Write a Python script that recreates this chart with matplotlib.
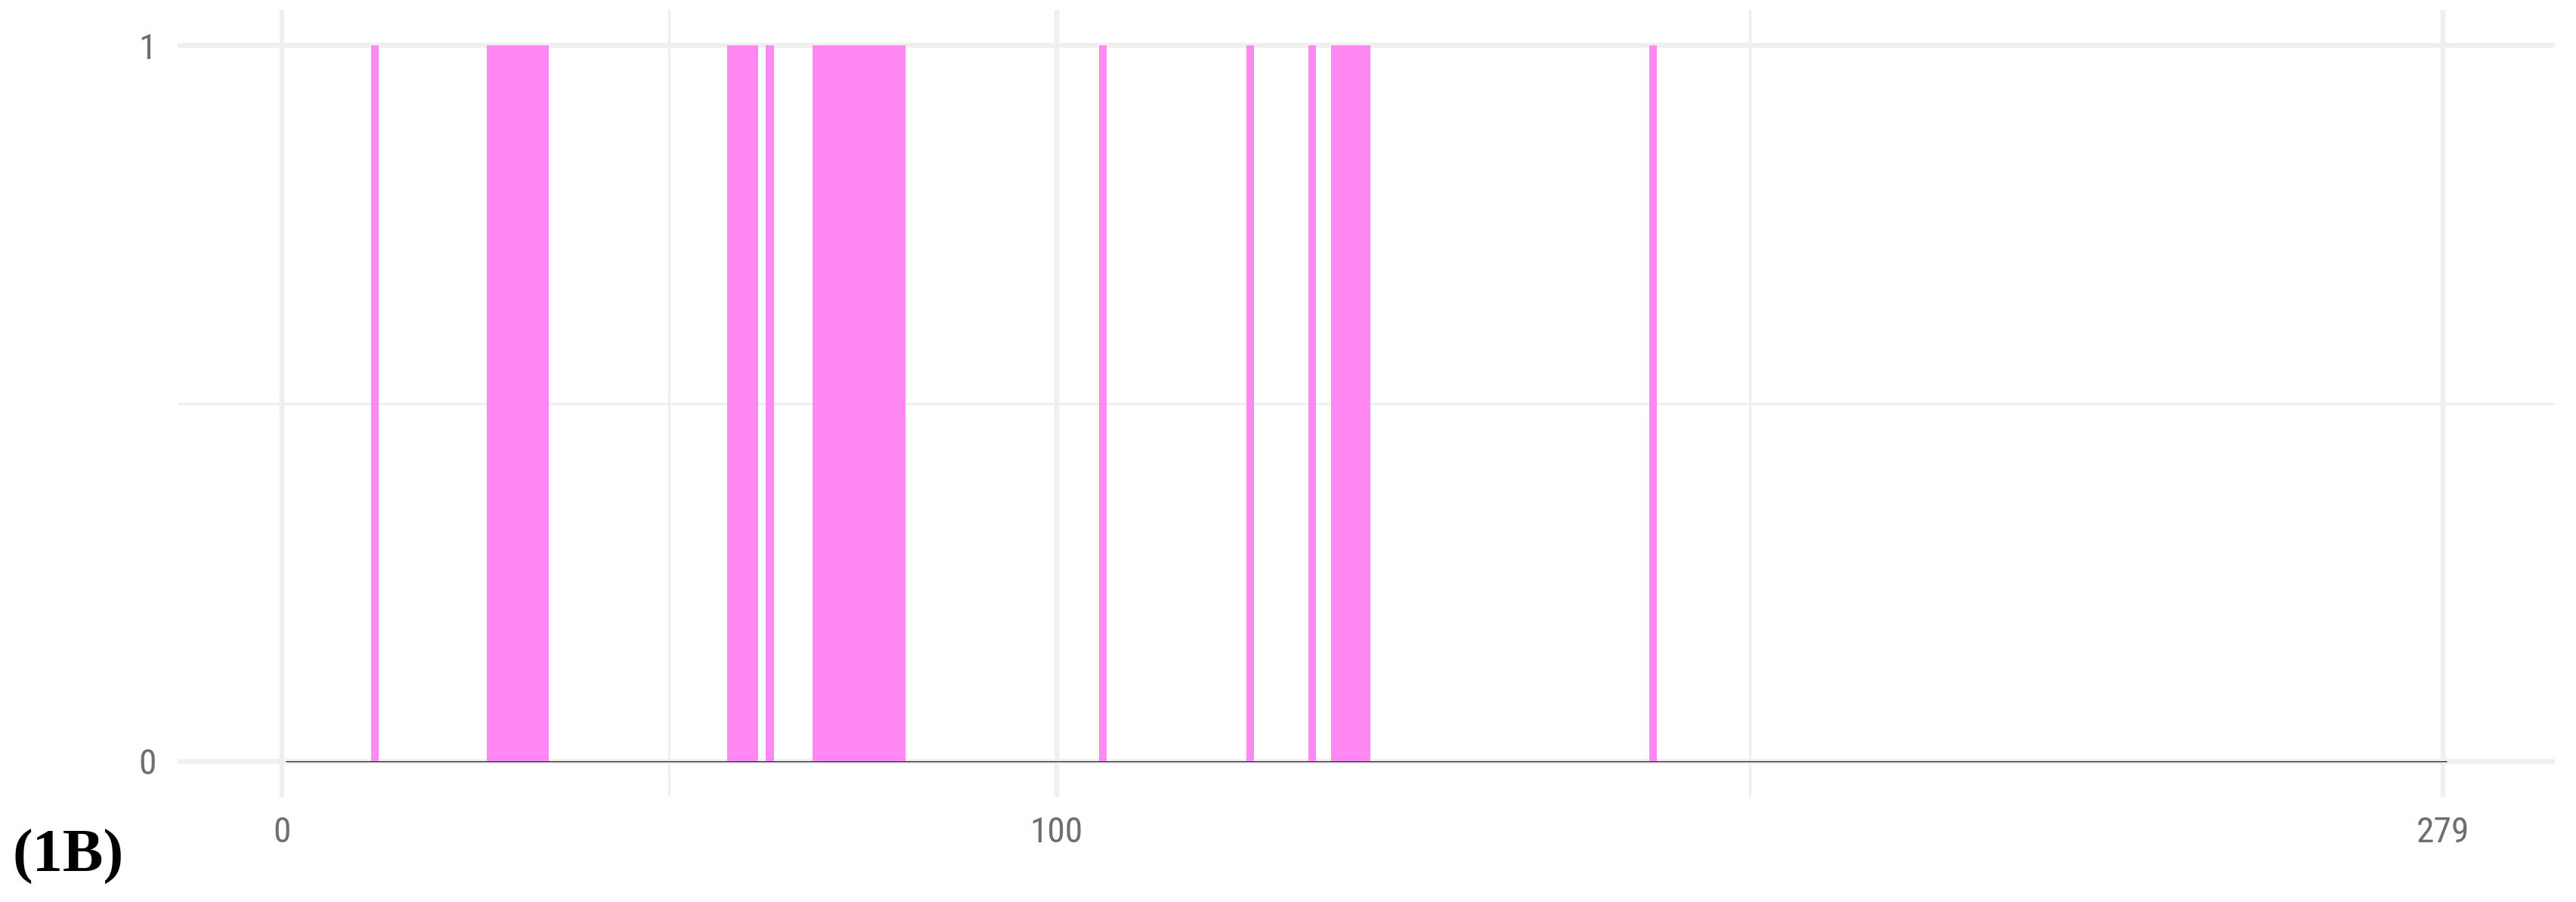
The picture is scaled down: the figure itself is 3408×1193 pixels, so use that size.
import matplotlib
matplotlib.use("Agg")
import matplotlib.pyplot as plt
import numpy as np

# ---- data ----
positions = list(range(1, 280))                     # sequence positions 1..279
active_positions = [12, 27, 28, 29, 30, 31, 32, 33, 34,
                    58, 59, 60, 61, 63,
                    69, 70, 71, 72, 73, 74, 75, 76, 77, 78, 79, 80,
                    106, 125, 133, 136, 137, 138, 139, 140, 177]
values = [1 if p in active_positions else 0 for p in positions]
x_ticks = [0, 100, 279]
x_tick_labels = ["0", "100", "279"]
x_minor = [50, 189.5]
y_ticks = [0, 1]
y_tick_labels = ["0", "1"]
y_minor = [0.5]
panel_label = "(1B)"

W, H, DPI = 3408, 1193, 300
fig = plt.figure(figsize=(W / DPI, H / DPI), dpi=DPI)
fig.patch.set_facecolor("white")

left, right, top, bottom = 235, 3380, 13, 1054
ax = fig.add_axes([left / W, (H - bottom) / H, (right - left) / W, (bottom - top) / H])
ax.set_facecolor("white")

pink = "#FF88F2"
grid_c = "#EFEFEF"

# grid
for xv in x_ticks:
    ax.axvline(xv, color=grid_c, lw=1.55, zorder=0)
for xv in x_minor:
    ax.axvline(xv, color=grid_c, lw=0.78, zorder=0)
for yv in y_ticks:
    ax.axhline(yv, color=grid_c, lw=1.55, zorder=0)
for yv in y_minor:
    ax.axhline(yv, color=grid_c, lw=0.78, zorder=0)

# baseline of zero-height bars
ax.hlines(0, positions[0] - 0.5, positions[-1] + 0.5, color="#1a1a1a", lw=0.3, zorder=1)

# bars
ax.bar(positions, values, width=1.0, color=pink, edgecolor="none", linewidth=0,
       zorder=2, antialiased=False)

span = positions[-1] - positions[0] + 1
x0 = positions[0] - 0.5
x1 = positions[-1] + 0.5
ax.set_xlim(x0 - 0.05 * span, x1 + 0.05 * span)
ax.set_ylim(-0.05, 1.05)

ax.set_xticks(x_ticks)
ax.set_xticklabels(x_tick_labels)
ax.set_yticks(y_ticks)
ax.set_yticklabels(y_tick_labels)

tick_font = ["Liberation Sans Narrow", "Roboto Condensed", "Liberation Sans", "DejaVu Sans"]
for lab in ax.get_xticklabels() + ax.get_yticklabels():
    lab.set_family(tick_font)
    lab.set_fontsize(11.4)
    lab.set_color("#6E6E6E")
ax.tick_params(axis="x", length=0, pad=6.0)
ax.tick_params(axis="y", length=0, pad=6.7)

for s in ax.spines.values():
    s.set_visible(False)

fig.text(17 / W, (H - 1153) / H, panel_label, family=["Liberation Serif", "DejaVu Serif"],
         fontweight="bold", fontsize=19.3, color="black", ha="left", va="baseline")

fig.savefig("out.png", dpi=DPI, facecolor="white")
